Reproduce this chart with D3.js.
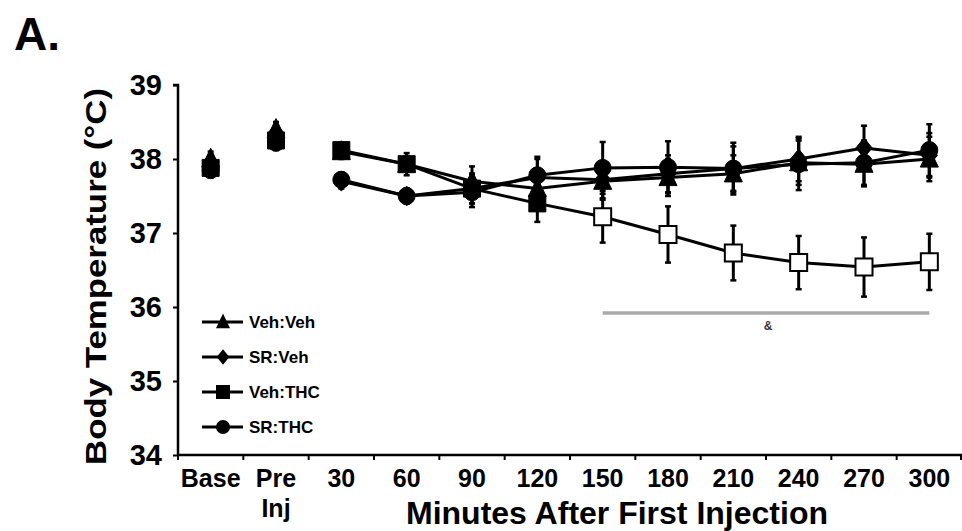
<!DOCTYPE html>
<html><head><meta charset="utf-8">
<script src="https://cdn.jsdelivr.net/npm/d3@7"></script>
<style>body{margin:0;background:#fff}svg{display:block}text{font-family:"Liberation Sans",Arial,sans-serif;font-weight:bold}</style>
</head><body>
<svg id="c" width="962" height="531"></svg>
<script>
const categories = ["Base","Pre Inj","30","60","90","120","150","180","210","240","270","300"];
const seriesNames = ["Veh:Veh","SR:Veh","Veh:THC","SR:THC"];
const seriesShapes = ["triangle","diamond","square","circle"];
const vehVeh = [38.0,38.4,38.1,37.93,37.7,37.6,37.7,37.75,37.8,37.95,37.93,38.0];
const srVeh  = [37.95,38.35,37.7,37.5,37.6,37.75,37.72,37.8,37.87,38.0,38.15,38.05];
const vehThc = [37.88,38.25,38.12,37.93,37.6,37.4,37.22,36.98,36.73,36.6,36.54,36.61];
const srThc  = [37.85,38.22,37.72,37.5,37.55,37.78,37.88,37.89,37.87,37.93,37.95,38.12];
const semVehVeh = [0.1,0.1,0.1,0.15,0.2,0.25,0.25,0.25,0.25,0.3,0.3,0.3];
const semSrVeh  = [0.1,0.1,0.1,0.1,0.2,0.25,0.25,0.25,0.3,0.3,0.3,0.3];
const semVehThc = [0.1,0.1,0.1,0.1,0.2,0.25,0.35,0.38,0.37,0.36,0.4,0.38];
const semSrThc  = [0.1,0.1,0.1,0.1,0.2,0.25,0.35,0.35,0.35,0.35,0.3,0.35];
const vehThcOpen = [false,false,false,false,false,false,true,true,true,true,true,true];
const yTicks = [34,35,36,37,38,39];
const sigFrom = "150", sigTo = "300", sigLabel = "&";

const values = [vehVeh, srVeh, vehThc, srThc];
const sems = [semVehVeh, semSrVeh, semVehThc, semSrThc];
const opens = [null, null, vehThcOpen, null];

const svg = d3.select("#c");
const x = d3.scaleBand().domain(categories).range([178, 962]);
const y = d3.scaleLinear().domain([34, 39]).range([455, 85]);
const cx = c => x(c) + x.bandwidth() / 2;

// Title letter
svg.append("text").attr("x", 14).attr("y", 50).attr("font-size", 46).text("A.");

// Y axis
const yAxis = d3.axisLeft(y).tickValues(yTicks).tickSize(5).tickPadding(11).tickFormat(d3.format("d"));
const gy = svg.append("g").attr("transform", "translate(178,0)").call(yAxis);
gy.select(".domain").attr("stroke", "#000").attr("stroke-width", 2.5).attr("d", `M-5,${y(39)}H0V${y(34)}`);
gy.selectAll(".tick line").attr("stroke", "#000").attr("stroke-width", 2);
gy.selectAll(".tick text").attr("font-size", 29).attr("fill", "#000").attr("font-family", '"Liberation Sans",Arial,sans-serif').attr("font-weight", "bold");

// X axis (labels centered in bands, ticks at band boundaries)
const xAxis = d3.axisBottom(x).tickSize(0).tickPadding(14);
const gx = svg.append("g").attr("transform", "translate(0,455)").call(xAxis);
gx.select(".domain").attr("stroke", "#000").attr("stroke-width", 2.5).attr("d", `M178,0H962`);
gx.selectAll(".tick text").attr("font-size", 25).attr("fill", "#000")
  .attr("font-family", '"Liberation Sans",Arial,sans-serif').attr("font-weight", "bold")
  .each(function(d) {
    const parts = d.split(" ");
    const t = d3.select(this).text(null);
    parts.forEach((p, i) => t.append("tspan").attr("x", 0).attr("dy", i === 0 ? "0.71em" : "1.2em").text(p));
  });
const bounds = categories.map(c => x(c)).concat([x.range()[1] - 1]);
gx.selectAll(".bt").data(bounds).join("line").attr("class", "bt")
  .attr("x1", d => d).attr("x2", d => d).attr("y1", 0).attr("y2", 5)
  .attr("stroke", "#000").attr("stroke-width", 2);

// Axis titles
svg.append("text").attr("transform", `translate(106,${(88 + 465) / 2}) rotate(-90)`)
  .attr("text-anchor", "middle").attr("font-size", 29)
  .attr("textLength", 377).attr("lengthAdjust", "spacingAndGlyphs")
  .text("Body Temperature (°C)");
svg.append("text").attr("x", 617).attr("y", 524).attr("text-anchor", "middle").attr("font-size", 32)
  .text("Minutes After First Injection");

// Significance bar
svg.append("line").attr("x1", cx(sigFrom)).attr("x2", cx(sigTo)).attr("y1", 313).attr("y2", 313)
  .attr("stroke", "#aaa").attr("stroke-width", 3.5);
svg.append("text").attr("x", (cx(sigFrom) + cx(sigTo)) / 2 + 2).attr("y", 330).attr("text-anchor", "middle")
  .attr("font-size", 12).attr("fill", "#333").text(sigLabel);

function markerPath(shape, size) {
  const s = size;
  if (shape === "triangle") return `M0,${-s*0.6}L${s*0.5},${s*0.45}L${-s*0.5},${s*0.45}Z`;
  if (shape === "diamond") return `M0,${-s*0.55}L${s*0.45},0L0,${s*0.55}L${-s*0.45},0Z`;
  if (shape === "square") return `M${-s/2},${-s/2}H${s/2}V${s/2}H${-s/2}Z`;
  const r = s / 2;
  return `M${r},0A${r},${r} 0 1,1 ${-r},0A${r},${r} 0 1,1 ${r},0Z`;
}
const mSize = [18, 18, 17, 17];

// Error bars
values.forEach((vals, si) => {
  const g = svg.append("g");
  vals.forEach((v, i) => {
    const c = categories[i], e = sems[si][i];
    g.append("line").attr("x1", cx(c)).attr("x2", cx(c)).attr("y1", y(v + e)).attr("y2", y(v - e))
      .attr("stroke", "#000").attr("stroke-width", 3);
    [v + e, v - e].forEach(w => g.append("line").attr("x1", cx(c) - 3).attr("x2", cx(c) + 3)
      .attr("y1", y(w)).attr("y2", y(w)).attr("stroke", "#000").attr("stroke-width", 2.5));
  });
});

// Lines (only from 30 min onward)
const line = d3.line().x(d => cx(d.c)).y(d => y(d.v));
values.forEach(vals => {
  const pts = vals.map((v, i) => ({c: categories[i], v})).slice(2);
  svg.append("path").attr("d", line(pts)).attr("fill", "none").attr("stroke", "#000").attr("stroke-width", 3);
});

// Markers
values.forEach((vals, si) => {
  vals.forEach((v, i) => {
    const open = opens[si] && opens[si][i];
    svg.append("path").attr("d", markerPath(seriesShapes[si], mSize[si]))
      .attr("transform", `translate(${cx(categories[i])},${y(v)})`)
      .attr("fill", open ? "#fff" : "#000").attr("stroke", "#000").attr("stroke-width", open ? 2 : 1);
  });
});

// Legend
const leg = svg.append("g");
const legY = [322, 357, 392, 427];
seriesNames.forEach((n, i) => {
  leg.append("line").attr("x1", 202).attr("x2", 243).attr("y1", legY[i]).attr("y2", legY[i])
    .attr("stroke", "#000").attr("stroke-width", 3);
  leg.append("path").attr("d", markerPath(seriesShapes[i], 14)).attr("transform", `translate(223,${legY[i]})`)
    .attr("fill", "#000");
  leg.append("text").attr("x", 249).attr("y", legY[i] + 6).attr("font-size", 17).text(n);
});
</script>
</body></html>
